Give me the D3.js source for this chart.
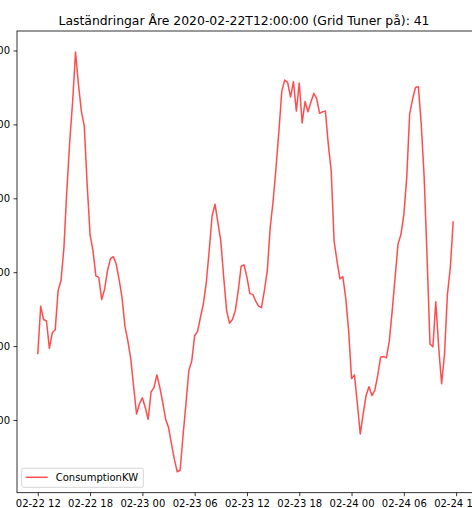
<!DOCTYPE html>
<html>
<head>
<meta charset="utf-8">
<script src="https://cdn.jsdelivr.net/npm/d3@7"></script>
<style>
  html, body { margin: 0; padding: 0; background: #fff; overflow: hidden; }
  svg { display: block; font-family: "DejaVu Sans", sans-serif; }
</style>
</head>
<body>
<svg id="chart" width="472" height="508"></svg>
<script>
// Load readings for Åre, sampled every 20 minutes from 2020-02-22 12:00
const title = "Laständringar Åre 2020-02-22T12:00:00 (Grid Tuner på): 41";
const seriesName = "ConsumptionKW";
const startTime = "2020-02-22T12:00:00Z";
const stepMinutes = 20;
const consumptionKW = [
  689, 754, 736, 734, 697, 718, 722, 775, 789, 833,
  910, 977, 1031, 1098, 1054, 1018, 998, 919, 851, 829,
  795, 793, 763, 777, 802, 818, 821, 811, 790, 766,
  727, 707, 683, 645, 608, 622, 630, 617, 601, 638,
  644, 661, 644, 624, 601, 590, 568, 547, 530, 532,
  579, 622, 667, 680, 714, 720, 739, 757, 786, 829,
  876, 892, 867, 842, 793, 748, 731, 736, 748, 775,
  808, 810, 793, 771, 770, 761, 754, 752, 775, 802,
  860, 896, 941, 991, 1045, 1060, 1057, 1037, 1058, 1018,
  1056, 1002, 1031, 1017, 1030, 1042, 1035, 1015, 1017, 1018,
  973, 937, 842, 815, 791, 794, 765, 721, 656, 661,
  622, 581, 608, 633, 645, 633, 640, 660, 685, 686,
  684, 707, 748, 793, 838, 851, 878, 928, 1014, 1034,
  1050, 1051, 1000, 928, 820, 703, 699, 760, 698, 649,
  689, 770, 806, 869
];
const tickFormat = "%m-%d %H";
const tickHours = 6;

const t0 = new Date(startTime);
const data = consumptionKW.map((v, i) => ({
  t: new Date(t0.getTime() + i * stepMinutes * 60000),
  v
}));

const svg = d3.select("#chart");
const plot = { left: 17, right: 474, top: 31, bottom: 492.7 };

// matplotlib-style 5% margins around the data extent
function padded(ext) {
  const span = ext[1] - ext[0];
  return [ext[0] - span * 0.05, ext[1] + span * 0.05];
}
const tExt = d3.extent(data, d => d.t.getTime());
const x = d3.scaleUtc()
  .domain(padded(tExt).map(ms => new Date(ms)))
  .range([plot.left, plot.right]);
const y = d3.scaleLinear()
  .domain(padded(d3.extent(data, d => d.v)))
  .range([plot.bottom, plot.top]);

// Title
svg.append("text")
  .attr("x", (plot.left + plot.right) / 2 - 1.5)
  .attr("y", 25)
  .attr("text-anchor", "middle")
  .attr("font-size", 12.4)
  .attr("fill", "#000")
  .text(title);

// Axes
const xAxis = d3.axisBottom(x)
  .ticks(d3.utcHour.every(tickHours))
  .tickFormat(d3.utcFormat(tickFormat))
  .tickSizeInner(3.5).tickSizeOuter(0).tickPadding(3.5);
const gx = svg.append("g")
  .attr("transform", `translate(0,${plot.bottom})`)
  .call(xAxis);
gx.select(".domain").remove();
gx.selectAll("line").attr("stroke", "#000").attr("stroke-width", 0.8);
gx.selectAll("text").attr("font-size", 10).attr("fill", "#000")
  .attr("font-family", "DejaVu Sans");

const yAxis = d3.axisLeft(y)
  .ticks(6)
  .tickSizeInner(3.5).tickSizeOuter(0).tickPadding(3.5);
const gy = svg.append("g")
  .attr("transform", `translate(${plot.left},0)`)
  .call(yAxis);
gy.select(".domain").remove();
gy.selectAll("line").attr("stroke", "#000").attr("stroke-width", 0.8);
gy.selectAll("text").attr("font-size", 10).attr("fill", "#000")
  .attr("font-family", "DejaVu Sans");

// Series line
const line = d3.line()
  .x(d => x(d.t))
  .y(d => y(d.v));
svg.append("path")
  .datum(data)
  .attr("fill", "none")
  .attr("stroke", "rgba(255,0,0,0.7)")
  .attr("stroke-width", 1.5)
  .attr("stroke-linejoin", "round")
  .attr("d", line);

// Spines
svg.append("rect")
  .attr("x", plot.left).attr("y", plot.top)
  .attr("width", plot.right - plot.left)
  .attr("height", plot.bottom - plot.top)
  .attr("fill", "none")
  .attr("stroke", "#000")
  .attr("stroke-width", 0.8);

// Legend, lower left
const lg = svg.append("g")
  .attr("transform", `translate(${plot.left + 4.7},${plot.bottom - 24.4})`);
lg.append("rect")
  .attr("width", 121.6).attr("height", 19)
  .attr("rx", 2)
  .attr("fill", "rgba(255,255,255,0.8)")
  .attr("stroke", "#cccccc")
  .attr("stroke-width", 0.8);
lg.append("line")
  .attr("x1", 4).attr("x2", 26)
  .attr("y1", 9).attr("y2", 9)
  .attr("stroke", "rgba(255,0,0,0.7)")
  .attr("stroke-width", 1.5);
lg.append("text")
  .attr("x", 34).attr("y", 12.6)
  .attr("font-size", 10)
  .attr("fill", "#000")
  .text(seriesName);
</script>
</body>
</html>
